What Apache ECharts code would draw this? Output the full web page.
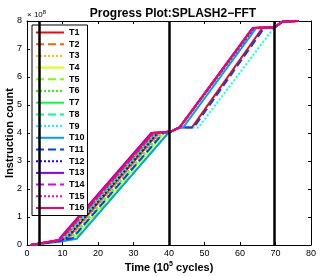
<!DOCTYPE html>
<html><head><meta charset="utf-8">
<script src="https://cdn.jsdelivr.net/npm/echarts@6/dist/echarts.min.js"></script>
<style>html,body{margin:0;padding:0;background:#fff}#c{width:333px;height:276px}</style>
</head><body><div id="c"></div>
<script>
// ---- data (time in 10^5 cycles, instruction count in 10^8) ----
const threadNames = ['T1','T2','T3','T4','T5','T6','T7','T8','T9','T10','T11','T12','T13','T14','T15','T16'];
const threadColors = ['#ff0000','#ff6000','#ffbf00','#dfff00','#80ff00','#20ff00','#00ff40','#00ff9f','#00ffff','#009fff','#0040ff','#2000ff','#8000ff','#df00ff','#ff00bf','#ff0060'];
const threadStyles = ['solid','dashed','dotted','solid','dashed','dotted','solid','dashed','dotted','solid','dashed','dotted','solid','dashed','dotted','solid'];

const T1  = [[1,0],[9,0.15],[11.5,0.25],[37.0,4.0],[40.5,4.05],[43,4.2],[46.5,4.2],[66.3,7.75],[69.8,7.78],[72,7.98],[76.5,8.0]];
const T2  = [[1,0],[9,0.15],[11.8,0.25],[37.3,4.0],[40.5,4.05],[43,4.2],[43.3,4.2],[63.9,7.75],[69.8,7.78],[72,7.98],[76.5,8.0]];
const T3  = [[1,0],[9,0.15],[12.2,0.25],[37.7,4.0],[40.5,4.05],[43,4.2],[43.4,4.2],[64.0,7.75],[69.8,7.78],[72,7.98],[76.5,8.0]];
const T4  = [[1,0],[9,0.12],[13.2,0.22],[38.8,4.0],[40.5,4.05],[43,4.2],[43.3,4.2],[63.9,7.75],[69.8,7.78],[72,7.98],[76.5,8.0]];
const T5  = [[1,0],[9,0.12],[13.6,0.22],[39.4,3.95],[40.5,4.05],[43,4.2],[43.5,4.2],[64.1,7.75],[69.8,7.78],[72,7.98],[76.5,8.0]];
const T6  = [[1,0],[9,0.14],[12.4,0.24],[38.0,4.0],[40.5,4.05],[43,4.2],[43.4,4.2],[64.0,7.75],[69.8,7.78],[72,7.98],[76.5,8.0]];
const T7  = [[1,0],[9,0.16],[10.6,0.26],[36.2,4.0],[40.5,4.05],[43,4.2],[43.1,4.2],[63.6,7.75],[69.8,7.78],[72,7.98],[76.5,8.0]];
const T8  = [[1,0],[9,0.16],[11.0,0.26],[36.6,4.0],[40.5,4.05],[43,4.2],[43.4,4.2],[64.0,7.75],[69.8,7.78],[72,7.98],[76.5,8.0]];
const T9  = [[1,0],[9,0.14],[12.6,0.24],[38.2,4.0],[40.5,4.05],[43,4.2],[48.3,4.2],[69.5,7.75],[69.8,7.78],[72,7.98],[76.5,8.0]];
const T10 = [[1,0],[9,0.12],[14.0,0.22],[39.8,4.0],[40.5,4.05],[43,4.2],[44.0,4.2],[64.6,7.75],[69.8,7.78],[72,7.98],[76.5,8.0]];
const T11 = [[1,0],[9,0.14],[12.8,0.24],[38.4,4.0],[40.5,4.05],[43,4.2],[47.0,4.2],[66.8,7.75],[69.8,7.78],[72,7.98],[76.5,8.0]];
const T12 = [[1,0],[9,0.15],[11.2,0.25],[36.8,4.0],[40.5,4.05],[43,4.2],[43.3,4.2],[63.9,7.75],[69.8,7.78],[72,7.98],[76.5,8.0]];
const T13 = [[1,0],[9,0.18],[9.5,0.28],[35.0,4.0],[40.5,4.05],[43,4.2],[43.0,4.2],[63.5,7.75],[69.8,7.78],[72,7.98],[76.5,8.0]];
const T14 = [[1,0],[9,0.17],[10.0,0.27],[35.6,4.0],[40.5,4.05],[43,4.2],[43.1,4.2],[63.6,7.75],[69.8,7.78],[72,7.98],[76.5,8.0]];
const T15 = [[1,0],[9,0.17],[10.2,0.27],[35.8,4.0],[40.5,4.05],[43,4.2],[43.2,4.2],[63.7,7.75],[69.8,7.78],[72,7.98],[76.5,8.0]];
const T16 = [[1,0],[9,0.18],[9.8,0.28],[35.4,4.0],[40.5,4.05],[43,4.2],[43.1,4.2],[63.6,7.75],[69.8,7.78],[72,7.98],[76.5,8.0]];
const threadData = [T1,T2,T3,T4,T5,T6,T7,T8,T9,T10,T11,T12,T13,T14,T15,T16];

const phaseMarks = [3.4, 40, 69.7];
const xTicks = [0,10,20,30,40,50,60,70,80];
const yTicks = [0,1,2,3,4,5,6,7,8];

// ---- chart ----
const FONT = 'Liberation Sans, Arial, sans-serif';
const chart = echarts.init(document.getElementById('c'));
const series = threadNames.map((n,i)=>({
  name:n, type:'line', data:threadData[i], symbol:'none', showSymbol:false,
  lineStyle:{color:threadColors[i], width:2, type:threadStyles[i]},
  itemStyle:{color:threadColors[i]}, z:3, animation:false
}));
series[0].markLine = {
  silent:true, symbol:'none', label:{show:false}, animation:false,
  lineStyle:{color:'#000', width:2.5, type:'solid'},
  data: phaseMarks.map(v=>({xAxis:v}))
};
chart.setOption({
  animation:false,
  backgroundColor:'#fff',
  title:{text:'Progress Plot:SPLASH2\u2212FFT', left:168, textAlign:'center', top:3,
    textStyle:{fontFamily:FONT, fontWeight:'bold', fontSize:12, color:'#000'}},
  grid:{left:27, right:22, top:21, bottom:31, outerBoundsMode:'none', containLabel:false},
  legend:{
    show:true, orient:'vertical', left:32, top:25,
    backgroundColor:'#fff', borderColor:'#000', borderWidth:1,
    padding:[3,3,3,3], itemWidth:28, itemHeight:9, itemGap:2.7,
    itemStyle:{opacity:0},
    lineStyle:{width:2},
    textStyle:{fontFamily:FONT, fontWeight:'bold', fontSize:9, color:'#000'}
  },
  xAxis:[{
    type:'value', min:0, max:80, interval:10,
    name:'Time (10{s|5} cycles)', nameLocation:'middle', nameGap:16, nameMoveOverlap:false,
    nameTextStyle:{fontFamily:FONT, fontWeight:'bold', fontSize:11, color:'#000',
      rich:{s:{fontFamily:FONT, fontWeight:'bold', fontSize:7, verticalAlign:'top', padding:[0,0,6,0], color:'#000'}}},
    axisLine:{show:true, onZero:false, lineStyle:{color:'#000', width:1}},
    axisTick:{inside:true, length:3, lineStyle:{color:'#000'}},
    axisLabel:{fontFamily:FONT, fontSize:9, color:'#000', margin:4,
      formatter:v=>xTicks.includes(v)?String(v):''},
    splitLine:{show:false}
  },{
    type:'value', position:'top', min:0, max:80, interval:10,
    axisLine:{show:true, onZero:false, lineStyle:{color:'#000', width:1}},
    axisTick:{inside:true, length:3, lineStyle:{color:'#000'}},
    axisLabel:{show:false}, splitLine:{show:false}
  }],
  yAxis:[{
    type:'value', min:0, max:8, interval:1,
    name:'Instruction count', nameLocation:'middle', nameGap:12, nameMoveOverlap:false,
    nameTextStyle:{fontFamily:FONT, fontWeight:'bold', fontSize:11, color:'#000'},
    axisLine:{show:true, onZero:false, lineStyle:{color:'#000', width:1}},
    axisTick:{inside:true, length:3, lineStyle:{color:'#000'}},
    axisLabel:{fontFamily:FONT, fontSize:9, color:'#000', margin:5,
      formatter:v=>yTicks.includes(v)?String(v):''},
    splitLine:{show:false}
  },{
    type:'value', position:'right', min:0, max:8, interval:1,
    axisLine:{show:true, onZero:false, lineStyle:{color:'#000', width:1}},
    axisTick:{inside:true, length:3, lineStyle:{color:'#000'}},
    axisLabel:{show:false}, splitLine:{show:false}
  }],
  graphic:[{
    type:'text', left:27, top:9,
    style:{text:'\u00d7 10{s|8}', fontFamily:FONT, fontSize:8, fill:'#000',
      rich:{s:{fontFamily:FONT, fontSize:6, verticalAlign:'top', padding:[0,0,5,0]}}}
  }],
  series:series
});
</script></body></html>
